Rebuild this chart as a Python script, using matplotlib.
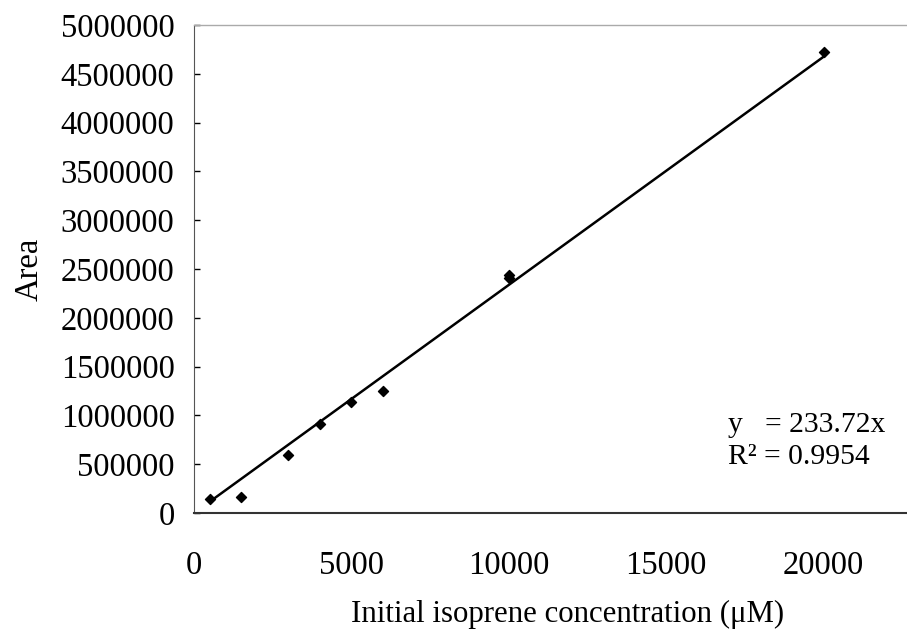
import matplotlib
matplotlib.use("Agg")
import matplotlib.pyplot as plt
import numpy as np

conc = [500, 1500, 3000, 4000, 5000, 6000, 10000, 10000, 20000]
area = [143000, 167000, 591000, 912000, 1134000, 1253000, 2438000, 2410000, 4726000]
slope = 233.72
r2 = 0.9954
xticks = [0, 5000, 10000, 15000, 20000]
yticks = list(range(0, 5000001, 500000))

plt.rcParams['font.family'] = ['Liberation Serif', 'DejaVu Serif']
fs = 23.5
fig = plt.figure(figsize=(9.07, 6.35), dpi=100)
ax = fig.add_axes([0.2139, 0.192, 0.786, 0.7686])

ax.scatter(conc, area, marker='D', s=26, color='black', zorder=3)
xl = np.array([min(conc), max(conc)])
ax.plot(xl, slope * xl, color='black', lw=1.8)

ax.set_xlim(0, 22650)
ax.set_ylim(0, 5000000)
ax.set_xticks(xticks)
ax.set_yticks(yticks)
ax.set_xticklabels([str(t) for t in xticks], fontsize=fs)
ax.set_yticklabels([str(t) for t in yticks], fontsize=fs)
ax.tick_params(axis='y', direction='in', length=4, width=1, pad=14)
ax.tick_params(axis='x', length=0, pad=27)
ax.spines['right'].set_visible(False)
ax.spines['top'].set_color('#aaaaaa')
ax.spines['top'].set_linewidth(1.0)
ax.spines['left'].set_color('#555555')
ax.spines['bottom'].set_color('#333333')
ax.spines['bottom'].set_linewidth(1.5)

ax.set_xlabel('Initial isoprene concentration (\u03bcM)', fontsize=22.2)
ax.xaxis.set_label_coords(0.524, -0.178)
ax.set_ylabel('Area', fontsize=fs)
ax.yaxis.set_label_coords(-0.209, 0.5)

ax.text(0.749, 0.166, 'y   = %.2fx' % slope, transform=ax.transAxes,
        fontsize=21.3, va='baseline')
ax.text(0.749, 0.101, 'R\u00b2 = %.4f' % r2, transform=ax.transAxes,
        fontsize=21.3, va='baseline')

fig.savefig('out.png', dpi=100)
